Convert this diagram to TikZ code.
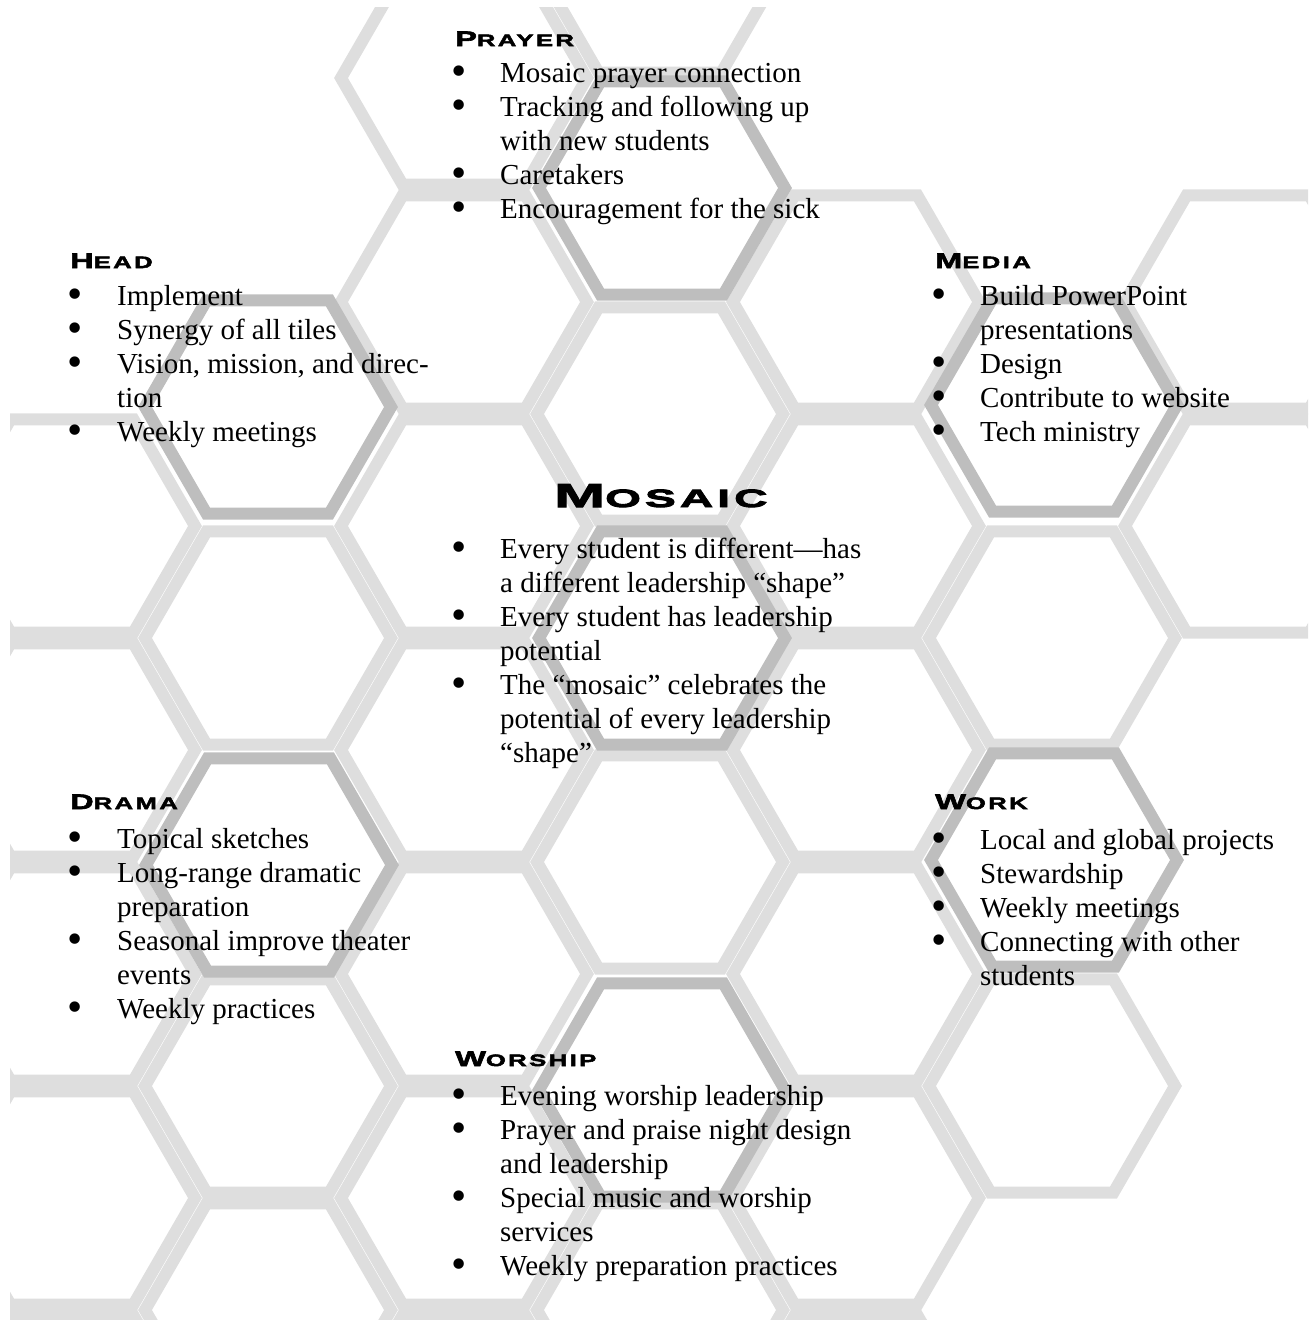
\documentclass[tikz,border=0pt]{standalone}
\usepackage{fontspec}
\usepackage{tikz}
\setmainfont{Liberation Serif}
\newfontfamily\hdfont{Liberation Sans Bold}[FakeStretch=1.55,LetterSpace=15,FakeBold=3]
\newfontfamily\titlefont{Liberation Sans Bold}[FakeStretch=1.85,LetterSpace=16,FakeBold=3.5]
\definecolor{tilelight}{HTML}{DEDEDE}
\definecolor{tiledark}{HTML}{BEBEBE}
\newcommand{\hdcaps}[4]{{\fontsize{#1}{#1}\selectfont #3\fontsize{#2}{#1}\selectfont #4}}
\newcommand{\bl}{\hspace*{-3pt}\raisebox{-3.5pt}{\scalebox{1.5}{\textbullet}}}

\begin{document}
\begin{tikzpicture}[x=1pt,y=-1pt,
  tile/.style={draw=tilelight, line width=12pt},
  darktile/.style={draw=tiledark, line width=12pt},
  hd/.style={anchor=base west, inner sep=0pt, font=\hdfont},
  items/.style={anchor=base west, inner sep=0pt, font=\fontsize{29}{34}\selectfont}]
\useasboundingbox (0,0) rectangle (1310,1320);

% honeycomb
\begin{scope}
\clip (10,7) rectangle (1308,1320);
\foreach \x/\y in {72/526,72/750,72/974,72/1198,72/1422,
  268/638,268/1086,268/1310,
  464/78,464/302,464/526,464/750,464/974,464/1198,464/1422,
  660/-34,660/414,660/862,660/1310,
  856/302,856/526,856/750,856/974,856/1198,856/1422,
  1052/638,1052/1086,
  1248/302,1248/526}
  \draw[tile] (\x,\y) +(0:123) -- +(60:123) -- +(120:123) -- +(180:123) -- +(240:123) -- +(300:123) -- cycle;
% highlighted tiles
\foreach \x/\y in {662/188,268/407,1054/405,662/638,269/865,1054/860,662/1090}
  \draw[darktile] (\x,\y) +(0:123) -- +(60:123) -- +(120:123) -- +(180:123) -- +(240:123) -- +(300:123) -- cycle;
\end{scope}

% Prayer
\node[hd] (prayerhd) at (455,46) {\hdcaps{21}{16.5}{P}{RAYER}};
\node[items] (prayerlist) at (454,82) {\begin{tabular}[t]{@{}p{46pt}@{}l@{}}
\bl & Mosaic prayer connection\\
\bl & Tracking and following up\\
    & with new students\\
\bl & Caretakers\\
\bl & Encouragement for the sick
\end{tabular}};

% Head
\node[hd] (headhd) at (70,268) {\hdcaps{21}{16.5}{H}{EAD}};
\node[items] (headlist) at (70,305) {\begin{tabular}[t]{@{}p{47pt}@{}l@{}}
\bl & Implement\\
\bl & Synergy of all tiles\\
\bl & Vision, mission, and direc-\\
    & tion\\
\bl & Weekly meetings
\end{tabular}};

% Media
\node[hd] (mediahd) at (935,268) {\hdcaps{21}{16.5}{M}{EDIA}};
\node[items] (medialist) at (934,305) {\begin{tabular}[t]{@{}p{46pt}@{}l@{}}
\bl & Build PowerPoint\\
    & presentations\\
\bl & Design\\
\bl & Contribute to website\\
\bl & Tech ministry
\end{tabular}};

% Mosaic
\node[hd, font=\titlefont] (mosaichd) at (554,507) {\hdcaps{33}{25}{M}{OSAIC}};
\node[items] (mosaiclist) at (454,558) {\begin{tabular}[t]{@{}p{46pt}@{}l@{}}
\bl & Every student is different—has\\
    & a different leadership “shape”\\
\bl & Every student has leadership\\
    & potential\\
\bl & The “mosaic” celebrates the\\
    & potential of every leadership\\
    & “shape”
\end{tabular}};

% Drama
\node[hd] (dramahd) at (70,809) {\hdcaps{21}{16.5}{D}{RAMA}};
\node[items] (dramalist) at (70,848) {\begin{tabular}[t]{@{}p{47pt}@{}l@{}}
\bl & Topical sketches\\
\bl & Long-range dramatic\\
    & preparation\\
\bl & Seasonal improve theater\\
    & events\\
\bl & Weekly practices
\end{tabular}};

% Work
\node[hd] (workhd) at (935,809) {\hdcaps{21}{16.5}{W}{ORK}};
\node[items] (worklist) at (934,849) {\begin{tabular}[t]{@{}p{46pt}@{}l@{}}
\bl & Local and global projects\\
\bl & Stewardship\\
\bl & Weekly meetings\\
\bl & Connecting with other\\
    & students
\end{tabular}};

% Worship
\node[hd] (worshiphd) at (455,1066) {\hdcaps{21}{16.5}{W}{ORSHIP}};
\node[items] (worshiplist) at (454,1105) {\begin{tabular}[t]{@{}p{46pt}@{}l@{}}
\bl & Evening worship leadership\\
\bl & Prayer and praise night design\\
    & and leadership\\
\bl & Special music and worship\\
    & services\\
\bl & Weekly preparation practices
\end{tabular}};
\end{tikzpicture}
\end{document}
